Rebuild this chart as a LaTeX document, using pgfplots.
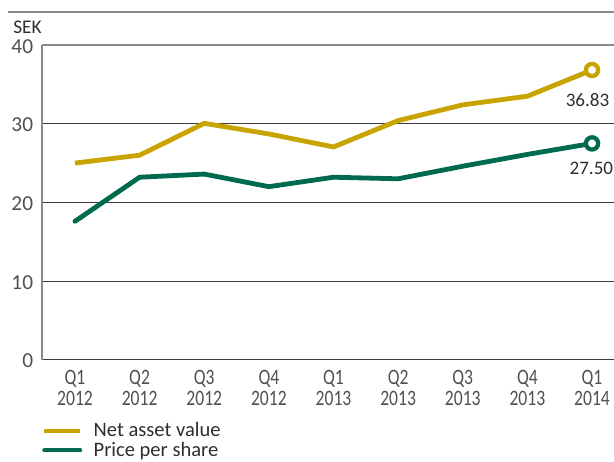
\documentclass[border=0pt]{standalone}
\usepackage{pgfplots}
\pgfplotsset{compat=1.18}
\usepackage{fontspec}
\setmainfont{Carlito}
\newfontfamily\condfont[FakeStretch=0.8]{Carlito}
\definecolor{nav}{HTML}{C9A400}
\definecolor{pps}{HTML}{006A4E}
\definecolor{txt}{HTML}{2E2E2E}
\definecolor{tick}{HTML}{505050}
\definecolor{axgray}{HTML}{8A8A8A}
\definecolor{grid}{HTML}{3C3C3C}
\begin{document}
\begin{tikzpicture}
\path[use as bounding box] (-31.5pt,-76pt) rectangle (429pt,269.8pt);
\draw[axgray, line width=1.3pt] (-25.5pt,260.8pt) -- (429pt,260.8pt);
\node[anchor=base west, inner sep=0pt, text=txt, font=\fontsize{14.5}{16}\selectfont] at (-21.75pt,245pt) {SEK};
\begin{axis}[
  scale only axis,
  width=429pt, height=236pt,
  at={(0,0)}, anchor=south west,
  xmin=-0.5106, xmax=8.34,
  ymin=0, ymax=40,
  ytick={0,10,20,30},
  extra y ticks={40},
  extra y tick style={grid style={draw=axgray, line width=1pt}},
  xtick={0,...,8},
  xticklabels={{Q1\\2012},{Q2\\2012},{Q3\\2012},{Q4\\2012},{Q1\\2013},{Q2\\2013},{Q3\\2013},{Q4\\2013},{Q1\\2014}},
  axis x line*=bottom, axis y line*=left,
  x axis line style={draw=grid, line width=1.1pt},
  y axis line style={draw=axgray, line width=1.1pt},
  major tick length=0pt,
  ymajorgrids,
  grid style={draw=grid, line width=0.8pt},
  every y tick label/.append style={font=\fontsize{16}{18}\selectfont, text=tick, inner sep=0pt, xshift=-6.5pt, yshift=-1pt},
  every x tick label/.append style={font=\condfont\fontsize{16.5}{15.75}\selectfont, text=tick, align=center, inner sep=0pt, yshift=-8pt},
  /pgf/number format/assume math mode=true,
  clip=false,
  legend style={draw=none, fill=none, at={(axis description cs:0,0)}, anchor=north west,
    xshift=0pt, yshift=-47pt, inner sep=0pt, row sep=2.5pt, column sep=0pt,
    font=\fontsize{15.4}{17}\selectfont, text=txt,
    nodes={inner sep=0pt, text=txt}},
  legend cell align=left,
  legend image code/.code={\draw[#1, line width=3pt] (0pt,0pt) -- (27pt,0pt); \path (35.25pt,0pt);},
]
\addplot[nav, line width=3.6pt, line join=round, mark=*, mark indices={9}, mark size=4.6pt, mark options={fill=white, line width=3.2pt}]
  coordinates {(0,25.0) (1,26.0) (2,30.05) (3,28.7) (4,27.05) (5,30.4) (6,32.4) (7,33.5) (8,36.83)};
\addlegendentry{Net asset value}
\addplot[pps, line width=3.6pt, line join=round, line cap=round, mark=*, mark indices={9}, mark size=4.6pt, mark options={fill=white, line width=3.2pt}]
  coordinates {(0,17.6) (1,23.2) (2,23.6) (3,22.0) (4,23.2) (5,23.0) (6,24.6) (7,26.1) (8,27.50)};
\addlegendentry{Price per share}
\node[text=txt, font=\fontsize{14.3}{16}\selectfont, inner sep=0pt] at (axis cs:7.93,33.0) {36.83};
\node[text=txt, font=\fontsize{14.3}{16}\selectfont, inner sep=0pt] at (axis cs:7.99,24.27) {27.50};
\end{axis}
\end{tikzpicture}
\end{document}
